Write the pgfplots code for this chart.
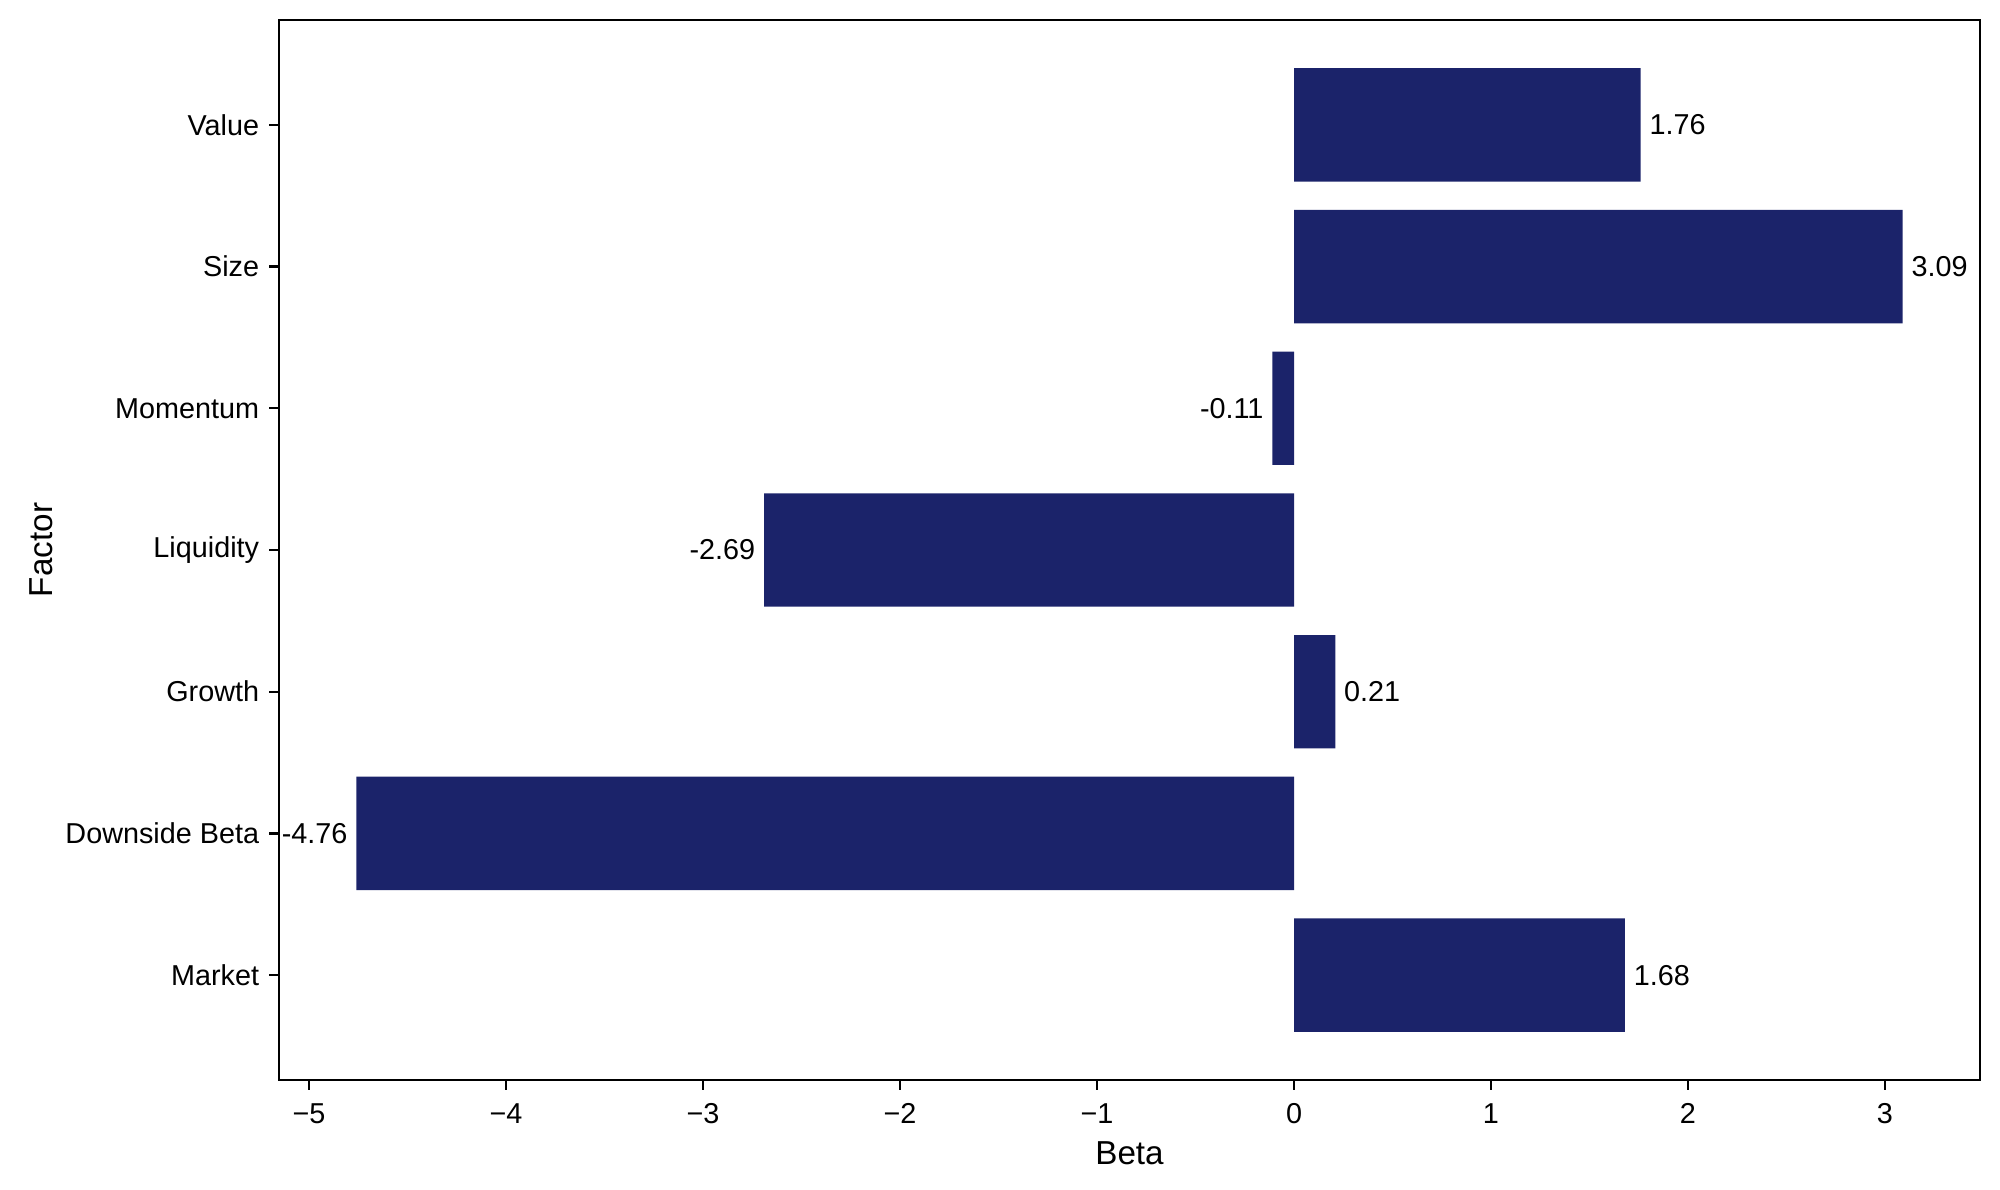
\documentclass[border=0pt]{standalone}
\usepackage{pgfplots}
\pgfplotsset{compat=1.18}
\usepackage{fontspec}
\setmainfont{Liberation Sans}
\definecolor{barblue}{RGB}{27,35,106}
\begin{document}
\begin{tikzpicture}
\begin{axis}[
  at={(0,0)}, anchor=south west,
  scale only axis, width=8.505in, height=5.3in,
  xmin=-5.1525, xmax=3.4825, ymin=-0.74, ymax=6.74,
  axis line style={line width=0.8pt},
  tick style={line width=0.8pt, black},
  tick align=outside, major tick length=3.5pt,
  xtick={-5,-4,-3,-2,-1,0,1,2,3},
  xticklabels={−5,−4,−3,−2,−1,0,1,2,3},
  xtick pos=bottom, ytick pos=left,
  ytick={0,1,2,3,4,5,6},
  yticklabels={Market,Downside Beta,Growth,Liquidity,Momentum,Size,Value},
  ticklabel style={font=\fontsize{10.4}{12}\selectfont},
  yticklabel style={inner sep=0pt, xshift=-3.5pt},
  xticklabel style={inner sep=0pt, yshift=-4.7pt},
  xlabel={Beta}, ylabel={Factor},
  label style={font=\fontsize{12}{14}\selectfont},
  xlabel style={at={(axis description cs:0.5,0)}, anchor=center, yshift=-26.5pt},
  ylabel style={yshift=1pt},
  xbar, bar width=0.8, bar shift=0pt,
  point meta=explicit symbolic,
  nodes near coords={\pgfplotspointmeta},
  every node near coord/.append style={font=\fontsize{10.4}{12}\selectfont, inner sep=0pt, black},
]
\addplot[fill=barblue, draw=none, nodes near coords style={anchor=west, xshift=3pt}]
  coordinates {(1.68,0) [1.68] (0.21,2) [0.21] (3.09,5) [3.09] (1.76,6) [1.76]};
\addplot[fill=barblue, draw=none, nodes near coords style={anchor=east, xshift=-3pt}]
  coordinates {(-4.76,1) [-4.76] (-2.69,3) [-2.69] (-0.11,4) [-0.11]};
\end{axis}
\path[use as bounding box] (-1.395in,-0.55in) rectangle (8.605in,5.4in);
\end{tikzpicture}
\end{document}
